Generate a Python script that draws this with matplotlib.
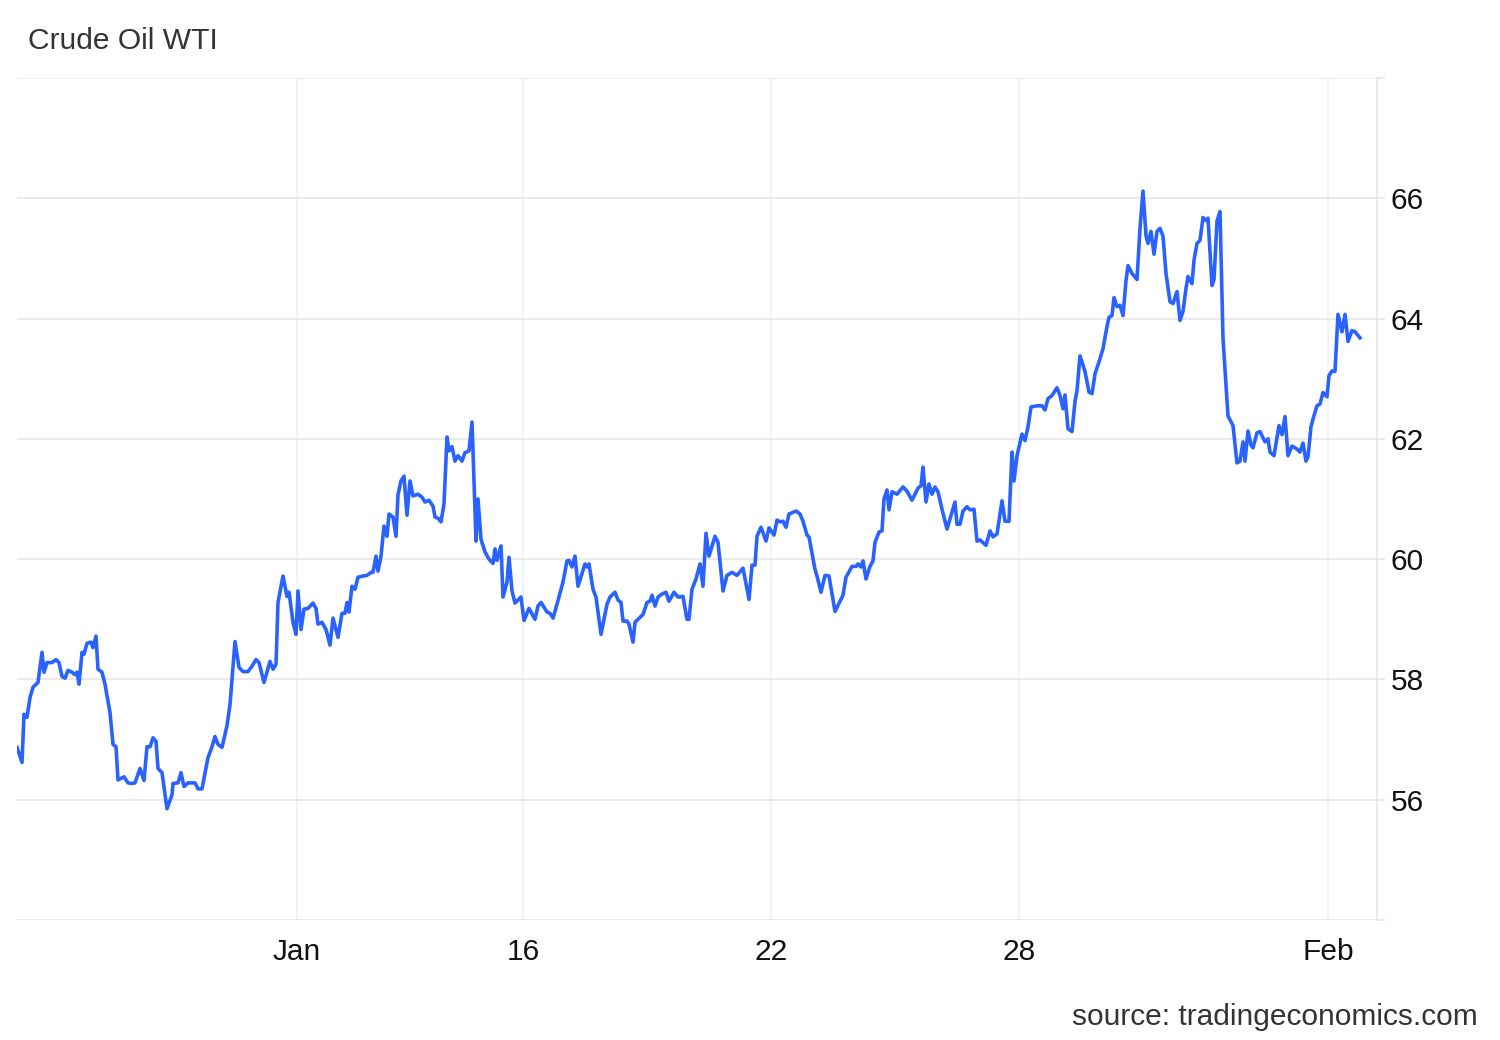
import matplotlib
matplotlib.use('Agg')
import matplotlib.pyplot as plt

# trading-session axis (abstract units) and WTI price in chunks
t_dec = [0, 5, 7, 10, 13, 16, 21, 25, 27, 30,
         35, 39, 42, 45, 48, 51, 55, 58, 60, 62,
         65, 67, 70, 74, 76, 79, 81, 85, 88, 93,
         96, 99, 101, 107, 111, 115, 118, 123, 127, 130,
         133, 136, 139, 141, 145, 150, 155, 156, 161, 164,
         167, 171, 178, 181, 185, 191, 195, 198, 201, 205,
         210, 213]
p_dec = [56.87, 56.62, 57.42, 57.37, 57.70, 57.87, 57.95, 58.45, 58.12, 58.28,
         58.28, 58.33, 58.28, 58.05, 58.02, 58.15, 58.12, 58.08, 58.12, 57.92,
         58.45, 58.42, 58.60, 58.62, 58.53, 58.72, 58.17, 58.12, 57.92, 57.45,
         56.92, 56.88, 56.33, 56.38, 56.28, 56.27, 56.28, 56.52, 56.32, 56.88,
         56.88, 57.03, 56.97, 56.52, 56.45, 55.85, 56.08, 56.27, 56.28, 56.45,
         56.22, 56.28, 56.28, 56.18, 56.18, 56.70, 56.88, 57.05, 56.92, 56.87,
         57.23, 57.58]

t_jan1 = [218, 222, 226, 231, 235, 239, 242, 247, 253, 256,
          259, 261, 266, 270, 272, 276, 279, 281, 284, 287,
          291, 296, 299, 301, 305, 309, 313, 316, 321, 325,
          328, 330, 332, 335, 338, 341, 346, 350, 354, 356,
          359, 361, 364, 367, 370, 372, 376, 379, 381, 384,
          387, 390, 393, 396, 401, 405, 408, 412, 416, 418,
          421, 424, 427, 430, 432, 435, 438, 441, 445, 448,
          452, 455, 456, 459, 461, 464, 468, 472, 476]
p_jan1 = [58.63, 58.20, 58.13, 58.13, 58.22, 58.33, 58.28, 57.95, 58.30, 58.17,
          58.25, 59.28, 59.72, 59.38, 59.45, 58.95, 58.75, 59.47, 58.83, 59.17,
          59.18, 59.27, 59.18, 58.92, 58.95, 58.83, 58.57, 59.02, 58.70, 59.10,
          59.10, 59.28, 59.12, 59.55, 59.50, 59.70, 59.72, 59.73, 59.78, 59.78,
          60.05, 59.80, 60.05, 60.55, 60.38, 60.75, 60.70, 60.38, 61.07, 61.30,
          61.38, 60.73, 61.30, 61.05, 61.08, 61.03, 60.95, 60.98, 60.88, 60.70,
          60.68, 60.62, 60.92, 62.03, 61.80, 61.87, 61.63, 61.72, 61.63, 61.77,
          61.80, 62.28, 61.80, 60.30, 61.00, 60.33, 60.12, 60.00, 59.93]

t_jan2 = [478, 480, 484, 486, 490, 492, 495, 498, 504, 507,
          512, 518, 521, 524, 530, 533, 536, 540, 546, 550,
          552, 555, 558, 561, 568, 570, 572, 576, 579, 584,
          590, 593, 598, 601, 604, 606, 610, 612, 616, 618,
          621, 626, 630, 633, 635, 638, 641, 645, 649, 652,
          657, 661, 666, 670, 672, 675, 679, 683, 686, 689,
          692, 698, 701, 706]
p_jan2 = [60.17, 59.98, 60.22, 59.37, 59.62, 60.03, 59.47, 59.27, 59.37, 58.98,
          59.18, 59.00, 59.22, 59.28, 59.12, 59.10, 59.02, 59.25, 59.62, 59.97,
          59.98, 59.87, 60.05, 59.55, 59.92, 59.87, 59.92, 59.50, 59.37, 58.75,
          59.25, 59.37, 59.45, 59.32, 59.28, 58.97, 58.97, 58.92, 58.62, 58.95,
          59.00, 59.08, 59.28, 59.30, 59.40, 59.22, 59.37, 59.42, 59.45, 59.30,
          59.45, 59.37, 59.38, 59.00, 59.00, 59.50, 59.67, 59.92, 59.55, 60.43,
          60.05, 60.38, 60.28, 59.47]

t_jan3 = [710, 715, 720, 726, 732, 735, 738, 740, 744, 749,
          752, 757, 760, 763, 766, 769, 772, 779, 783, 786,
          790, 792, 798, 800, 804, 808, 812, 818, 826, 829,
          835, 839, 841, 844, 846, 849, 853, 856, 858, 862,
          865, 867, 870, 872, 875, 880, 886, 890, 895, 901,
          904, 906, 909, 912, 915, 918, 921, 925, 930, 933,
          938, 940, 943, 946, 950, 953, 957, 960, 963]
p_jan3 = [59.73, 59.78, 59.73, 59.85, 59.33, 59.90, 59.90, 60.38, 60.53, 60.30,
          60.52, 60.40, 60.65, 60.62, 60.63, 60.53, 60.75, 60.80, 60.75, 60.63,
          60.40, 60.37, 59.83, 59.72, 59.45, 59.73, 59.72, 59.13, 59.40, 59.70,
          59.88, 59.88, 59.92, 59.87, 59.97, 59.67, 59.88, 59.97, 60.28, 60.45,
          60.47, 61.00, 61.15, 60.82, 61.12, 61.08, 61.20, 61.13, 60.98, 61.18,
          61.22, 61.53, 60.95, 61.25, 61.08, 61.20, 61.12, 60.83, 60.50, 60.67,
          60.95, 60.58, 60.58, 60.80, 60.87, 60.82, 60.83, 60.30, 60.32]

t_jan4 = [969, 973, 976, 980, 985, 988, 992, 995, 997, 1000,
          1005, 1008, 1011, 1014, 1020, 1025, 1028, 1031, 1035, 1040,
          1043, 1046, 1048, 1051, 1055, 1058, 1060, 1063, 1068, 1072,
          1075, 1078, 1082, 1086, 1090, 1092, 1095, 1097, 1100, 1103,
          1106, 1109, 1111, 1115, 1120, 1123, 1126, 1129, 1131, 1134,
          1137, 1140, 1143, 1146, 1149, 1153, 1156, 1160, 1163, 1166,
          1169, 1171, 1175, 1177, 1180, 1183]
p_jan4 = [60.23, 60.47, 60.37, 60.42, 60.97, 60.63, 60.63, 61.78, 61.30, 61.72,
          62.08, 61.97, 62.20, 62.53, 62.55, 62.55, 62.48, 62.67, 62.72, 62.85,
          62.72, 62.50, 62.73, 62.17, 62.12, 62.62, 62.80, 63.38, 63.12, 62.78,
          62.75, 63.08, 63.28, 63.50, 63.87, 64.02, 64.05, 64.35, 64.20, 64.22,
          64.05, 64.63, 64.88, 64.75, 64.65, 65.50, 66.12, 65.38, 65.25, 65.45,
          65.07, 65.45, 65.50, 65.37, 64.75, 64.28, 64.25, 64.45, 63.97, 64.12,
          64.50, 64.70, 64.58, 64.97, 65.25, 65.30]

t_feb = [1186, 1189, 1191, 1195, 1197, 1200, 1203, 1206, 1211, 1216,
         1220, 1223, 1226, 1228, 1231, 1234, 1236, 1240, 1243, 1248,
         1251, 1253, 1257, 1262, 1265, 1268, 1271, 1275, 1280, 1283,
         1286, 1289, 1291, 1294, 1296, 1300, 1303, 1306, 1310, 1312,
         1315, 1318, 1321, 1325, 1328, 1331, 1335, 1338, 1343]
p_feb = [65.68, 65.63, 65.67, 64.55, 64.65, 65.62, 65.78, 63.67, 62.38, 62.22,
         61.60, 61.63, 61.95, 61.63, 62.13, 61.90, 61.85, 62.10, 62.12, 61.95,
         62.00, 61.78, 61.72, 62.22, 62.07, 62.37, 61.72, 61.88, 61.83, 61.78,
         61.93, 61.63, 61.70, 62.20, 62.33, 62.55, 62.58, 62.77, 62.70, 63.05,
         63.13, 63.12, 64.07, 63.78, 64.07, 63.62, 63.80, 63.78, 63.68]

x_tick_pos = [280, 506, 754, 1002, 1311]
x_tick_labels = ['Jan', '16', '22', '28', 'Feb']
y_ticks = [54, 56, 58, 60, 62, 64, 66, 68]
y_tick_labels = ['', '56', '58', '60', '62', '64', '66', '']

t = t_dec + t_jan1 + t_jan2 + t_jan3 + t_jan4 + t_feb
price = p_dec + p_jan1 + p_jan2 + p_jan3 + p_jan4 + p_feb

plt.rcParams['font.family'] = ['Liberation Sans', 'DejaVu Sans']

W, H = 1500, 1040
fig = plt.figure(figsize=(W / 100, H / 100), dpi=100)
ax = fig.add_axes([17 / W, 1 - 920 / H, (1377 - 17) / W, (920 - 78) / H])

ax.plot(t, price, color='#2962ff', lw=2.6, solid_joinstyle='round', zorder=3)

ax.set_xlim(0, 1360)
ax.set_ylim(54, 68)

ax.set_xticks(x_tick_pos)
ax.set_xticklabels(x_tick_labels)
ax.set_yticks(y_ticks)
ax.set_yticklabels(y_tick_labels)

ax.yaxis.tick_right()
ax.tick_params(axis='y', length=6, width=1.2, color='#e6e6e6', pad=4,
               labelsize=21.5, labelcolor='#111111')
ax.tick_params(axis='x', length=0, pad=13, labelsize=21.5, labelcolor='#111111')

ax.grid(axis='y', color='#e6e6e6', lw=1.2)
ax.grid(axis='x', color='#eef2f7', lw=1.2)
ax.set_axisbelow(True)

for side in ['top', 'bottom', 'left']:
    ax.spines[side].set_visible(False)
ax.spines['right'].set_color('#e6e6e6')
ax.spines['right'].set_linewidth(1.2)

fig.text(28 / W, 1 - 41 / H, 'Crude Oil WTI', fontsize=21.6, color='#333333', va='center')
fig.text(1478 / W, 1 - 1017 / H, 'source: tradingeconomics.com', fontsize=21.5,
         color='#333333', ha='right', va='center')

fig.savefig('out.png', dpi=100, facecolor='white')
